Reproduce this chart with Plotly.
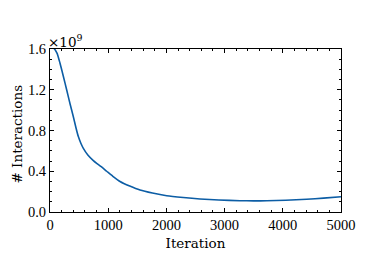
import plotly.graph_objects as go

iterations = [0, 60, 120, 172, 230, 286, 345, 401, 445, 487, 530, 573, 650, 745, 802, 880, 974, 1080, 1203, 1370, 1546, 1760, 2005, 2290, 2577, 2900, 3265, 3500, 3723, 4050, 4410, 4700, 5000]
interactions_e9 = [1.62, 1.61, 1.56, 1.46, 1.33, 1.20, 1.06, 0.935, 0.83, 0.74, 0.675, 0.625, 0.56, 0.505, 0.478, 0.445, 0.40, 0.35, 0.30, 0.255, 0.216, 0.186, 0.160, 0.142, 0.128, 0.118, 0.111, 0.109, 0.110, 0.115, 0.125, 0.136, 0.150]
y_ticks = [0.0, 0.4, 0.8, 1.2, 1.6]
x_ticks = [0, 1000, 2000, 3000, 4000, 5000]

tick_font = dict(family="Liberation Serif", size=14.5, color="black")
title_font = dict(family="DejaVu Serif", size=13.5, color="black")

fig = go.Figure()
fig.add_trace(go.Scatter(x=iterations, y=interactions_e9, mode="lines",
                         line=dict(color="#0C5DA5", width=1.6, shape="spline", smoothing=0.6),
                         showlegend=False, cliponaxis=True))

axis_common = dict(showgrid=False, zeroline=False, showline=True, linecolor="black", linewidth=1,
                   mirror="allticks", ticks="inside", ticklen=4, tickwidth=0.8, tickcolor="black",
                   tickfont=tick_font)
fig.update_xaxes(range=[0, 5000], tickvals=x_ticks, ticktext=[str(v) for v in x_ticks],
                 minor=dict(dtick=200, ticks="inside", ticklen=2, tickcolor="black", tickwidth=0.8),
                 title=dict(text="Iteration", font=title_font, standoff=6), **axis_common)
fig.update_yaxes(range=[0, 1.6], tickvals=y_ticks, ticktext=[f"{v:.1f}" for v in y_ticks],
                 minor=dict(dtick=0.1, ticks="inside", ticklen=2, tickcolor="black", tickwidth=0.8),
                 **axis_common)

fig.add_annotation(text="# Interactions", xref="paper", yref="paper", x=0, y=0.5,
                   xanchor="center", yanchor="middle", textangle=-90, showarrow=False,
                   font=title_font, xshift=-34, yshift=-4)
fig.add_annotation(text="×10<sup>9</sup>", xref="paper", yref="paper", x=0, y=1,
                   xanchor="left", yanchor="bottom", showarrow=False, font=title_font,
                   xshift=-4, yshift=-3)

fig.update_layout(width=373, height=257, margin=dict(l=42, r=40, t=41, b=53, autoexpand=False),
                  plot_bgcolor="white", paper_bgcolor="white", font=tick_font)
fig.write_html("out.html")
